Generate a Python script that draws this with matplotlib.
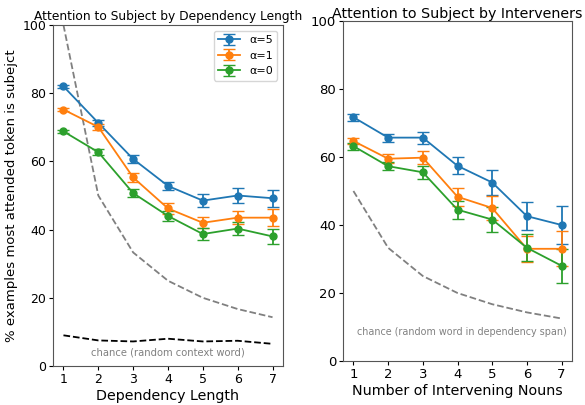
import numpy as np
import matplotlib
matplotlib.use("Agg")
import matplotlib.pyplot as plt

# data odcitane z grafu
dlzky = [1, 2, 3, 4, 5, 6, 7]
nouns = [1, 2, 3, 4, 5, 6, 7]
alfy = ["α=5", "α=1", "α=0"]
farby = ["#1f77b4", "#ff7f0e", "#2ca02c"]

dep_vals = [
    [82.0, 71.3, 60.7, 52.8, 48.5, 50.0, 49.2],
    [75.2, 70.1, 55.3, 46.2, 42.0, 43.5, 43.5],
    [68.8, 62.7, 50.7, 44.0, 38.7, 40.3, 38.0],
]
dep_err = [
    [0.5, 0.8, 1.2, 1.2, 1.9, 2.2, 2.5],
    [0.5, 0.8, 1.2, 1.5, 1.6, 2.0, 2.5],
    [0.5, 0.8, 1.1, 1.5, 1.7, 2.0, 2.3],
]
dep_chance_span = [100.0, 50.0, 33.3, 25.0, 20.0, 16.7, 14.3]
dep_chance_ctx = [9.0, 7.5, 7.2, 8.0, 7.2, 7.4, 6.5]

int_vals = [
    [71.7, 65.7, 65.7, 57.4, 52.5, 42.6, 40.0],
    [64.7, 59.5, 59.8, 48.3, 45.0, 33.0, 33.0],
    [63.2, 57.3, 55.5, 44.5, 41.6, 33.3, 28.0],
]
int_err = [
    [1.0, 1.2, 1.8, 2.5, 3.8, 4.1, 5.6],
    [1.0, 1.3, 1.9, 2.6, 3.6, 3.9, 5.2],
    [1.0, 1.2, 2.0, 2.6, 3.8, 4.0, 5.0],
]
int_chance = [50.0, 33.3, 25.0, 20.0, 16.7, 14.3, 12.5]

fig = plt.figure(figsize=(5.85, 4.05), dpi=100)
ax1 = fig.add_axes([53/585, 1 - 366/405, 230/585, 341/405])
ax2 = fig.add_axes([343/585, 1 - 361/405, 229/585, 340/405])

# lavy graf - dlzka zavislosti
ax1.plot(dlzky, dep_chance_span, color="gray", linestyle="--", linewidth=1.3)
ax1.plot(dlzky, dep_chance_ctx, color="black", linestyle="--", linewidth=1.3)
for lab, c, v, e in zip(alfy, farby, dep_vals, dep_err):
    ax1.errorbar(dlzky, v, yerr=e, color=c, marker="o", markersize=5, capsize=4, label=lab, linewidth=1.3)
ax1.text(4, 4, "chance (random context word)", color="gray", fontsize=7.2, ha="center", va="center")
ax1.set_ylim(0, 100)
ax1.set_xlim(0.7, 7.3)
ax1.set_xticks(dlzky)
ax1.set_yticks([0, 20, 40, 60, 80, 100])
ax1.set_title("Attention to Subject by Dependency Length", fontsize=8.8, pad=3.5)
ax1.set_xlabel("Dependency Length", fontsize=10.3, labelpad=2)
ax1.set_ylabel("% examples most attended token is subejct", fontsize=9.5, labelpad=3)
ax1.tick_params(labelsize=9, pad=2, length=3)
ax1.legend(loc="upper right", fontsize=8)

# pravy graf - pocet intervenujucich podstatnych mien
ax2.plot(nouns, int_chance, color="gray", linestyle="--", linewidth=1.3)
for lab, c, v, e in zip(alfy, farby, int_vals, int_err):
    ax2.errorbar(nouns, v, yerr=e, color=c, marker="o", markersize=5, capsize=4, label=lab, linewidth=1.3)
ax2.text(4.14, 8.5, "chance (random word in dependency span)", color="gray", fontsize=6.9, ha="center", va="center")
ax2.set_ylim(0, 100)
ax2.set_xlim(0.7, 7.3)
ax2.set_xticks(nouns)
ax2.set_yticks([0, 20, 40, 60, 80, 100])
ax2.set_title("Attention to Subject by Interveners", fontsize=10.3, pad=2)
ax2.set_xlabel("Number of Intervening Nouns", fontsize=10.3, labelpad=2)
ax2.tick_params(labelsize=9.5, pad=2, length=3)

for ax in (ax1, ax2):
    for s in ax.spines.values():
        s.set_color("#555555")

fig.savefig("out.png", dpi=100)
